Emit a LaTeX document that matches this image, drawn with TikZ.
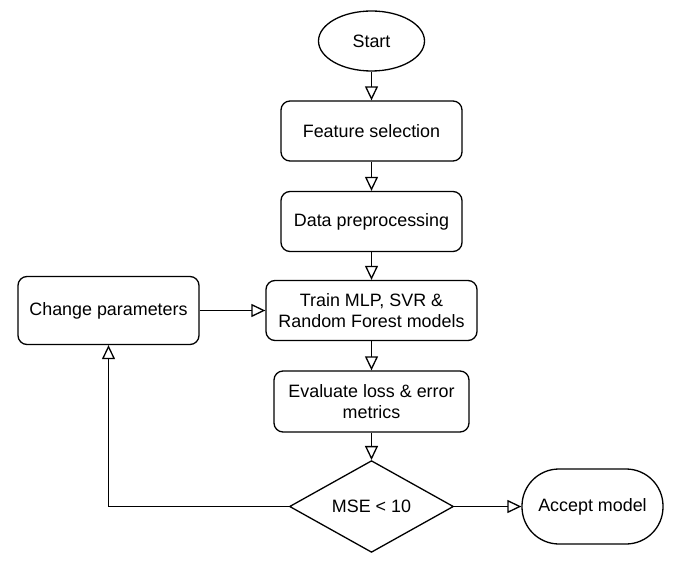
\documentclass[tikz,border=0pt]{standalone}
\usepackage{fontspec}
\setmainfont{Liberation Sans}
\usetikzlibrary{arrows.meta,shapes.geometric}
\begin{document}
\begin{tikzpicture}[x=1pt,y=-1pt,
  every node/.style={font=\fontsize{17.9}{21.5}\selectfont, line width=1.3pt, inner sep=0pt, align=center},
  procbox/.style={draw, rectangle, rounded corners=9pt},
  term/.style={draw, ellipse},
  decbox/.style={draw, diamond},
  flow/.style={line width=1.3pt, -{Triangle[open,length=14pt,width=13pt]}}
]
\useasboundingbox (0,0) rectangle (680,561);
\node[term, minimum width=106pt, minimum height=60pt] (start) at (371.5,41) {Start};
\node[procbox, minimum width=181pt, minimum height=60pt] (feat) at (371.5,131) {Feature selection};
\node[procbox, minimum width=181pt, minimum height=60pt] (data) at (371.5,221.5) {Data preprocessing};
\node[procbox, minimum width=211pt, minimum height=60pt] (train) at (371.5,310.5) {Train MLP, SVR \&\\Random Forest models};
\node[procbox, minimum width=195pt, minimum height=61pt] (eval) at (371.5,401.5) {Evaluate loss \& error\\metrics};
\node[procbox, minimum width=181pt, minimum height=68pt] (chg) at (108.5,310.5) {Change parameters};
\node[decbox, minimum width=164pt, minimum height=89pt] (dec) at (371.5,506.5) {MSE < 10};
\node[draw, rectangle, rounded corners=37pt, minimum width=141pt, minimum height=75pt] (acc) at (592.5,506.5) {Accept model};
\draw[flow] (start) -- (feat);
\draw[flow] (feat) -- (data);
\draw[flow] (data) -- (train);
\draw[flow] (train) -- (eval);
\draw[flow] (eval) -- (dec);
\draw[flow] (dec.east) -- (acc.west);
\draw[flow] (dec.west) -| (chg.south);
\draw[flow] (chg.east) -- (train.west);
\end{tikzpicture}
\end{document}
